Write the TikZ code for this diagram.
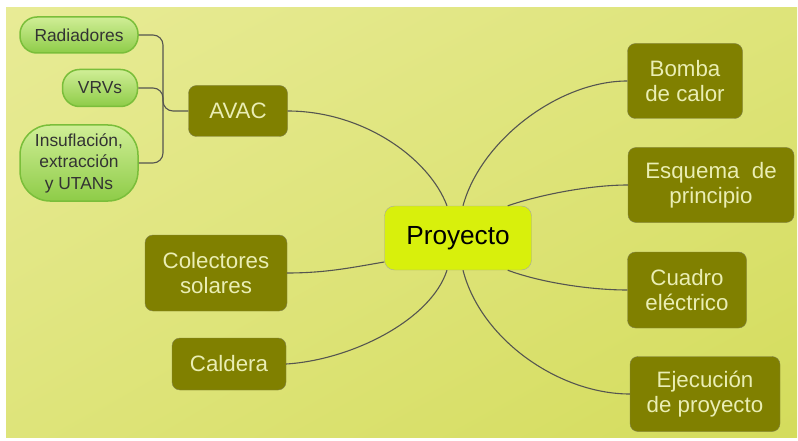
\documentclass[tikz,border=0pt]{standalone}
\usepackage{fontspec}
\setmainfont{Liberation Sans}
\usetikzlibrary{calc}
\usetikzlibrary{shadings}

\definecolor{olivebox}{RGB}{128,128,0}
\definecolor{olivetext}{RGB}{234,238,180}
\definecolor{limebox}{RGB}{216,240,12}
\definecolor{leaflight}{RGB}{208,238,150}
\definecolor{leafdark}{RGB}{142,204,72}
\definecolor{leafedge}{RGB}{122,190,58}
\definecolor{bgA}{RGB}{232,235,150}
\definecolor{bgB}{RGB}{222,228,122}
\definecolor{bgC}{RGB}{212,220,92}
\definecolor{linkgray}{RGB}{85,85,80}

\begin{document}
\begin{tikzpicture}[x=1pt,y=-1pt,
        topic/.style={draw=gray!60!olivebox, fill=olivebox, rounded corners=8pt,
            text=olivetext, align=center, inner sep=0pt,
            font=\fontsize{22.3}{25.5}\selectfont},
        leaf/.style={draw=leafedge, line width=1.5pt, top color=leaflight, bottom color=leafdark,
            text=black!80, align=center, inner sep=0pt,
            font=\fontsize{17.4}{21.5}\selectfont},
        link/.style={draw=linkgray, line width=1.1pt}]
                \useasboundingbox (0,0) rectangle (798,441);
                \shade[upper left=bgA, upper right=bgB, lower left=bgB, lower right=bgC]
                    (6,8) rectangle (797,437);

                \node[draw=gray!70, fill=limebox, rounded corners=10pt, inner sep=0pt,
                    minimum width=147, minimum height=64,
                    font=\fontsize{26.2}{30}\selectfont] (pj) at (458,238) {Proyecto};

                \node[topic, minimum width=99, minimum height=51] (avac) at (238,111) {AVAC};
                \node[topic, minimum width=142, minimum height=76] (colect) at (216,273) {Colectores\\solares};
                \node[topic, minimum width=114, minimum height=52] (caldera) at (229,364) {Caldera};

                \node[topic, minimum width=115, minimum height=75] (bomba) at (685,81) {Bomba\\de calor};
                \node[topic, minimum width=166, minimum height=75] (esquema) at (711,185) {Esquema~~de\\principio};
                \node[topic, minimum width=119, minimum height=76] (cuadro) at (687,290) {Cuadro\\eléctrico};
                \node[topic, minimum width=150, minimum height=75] (ejec) at (705,394) {Ejecución\\de proyecto};

                \node[leaf, rounded corners=17pt, minimum width=118, minimum height=36] (rad) at (79,35) {Radiadores};
                \node[leaf, rounded corners=17pt, minimum width=75, minimum height=37] (vrv) at (100,88) {VRVs};
                \node[leaf, rounded corners=30pt, minimum width=118, minimum height=76] (ins) at (79,163) {Insuflación,\\extracción\\y UTANs};

                \coordinate (hub) at (163,111);
                \draw[link, rounded corners=10pt] (rad.east) -| (hub) -- (avac.west);
                \draw[link, rounded corners=10pt] (vrv.east) -| (hub);
                \draw[link, rounded corners=10pt] (ins.east) -| (hub);

                \draw[link] (avac.east) .. controls +(75,0) and +(-18,-48) .. ($(pj.north)+(-11,0)$);
                \draw[link] ($(pj.north)+(5,0)$) .. controls +(18,-66) and +(-68,0) .. (bomba.west);
                \draw[link] ($(pj.north east)+(-24,0)$) .. controls +(32,-11) and +(-38,0) .. (esquema.west);
                \draw[link] ($(pj.south east)+(-24,0)$) .. controls +(32,12) and +(-38,0) .. (cuadro.west);
                \draw[link] ($(pj.south)+(5,0)$) .. controls +(18,70) and +(-70,0) .. (ejec.west);
                \draw[link] (colect.east) .. controls +(40,0) and +(-30,5) .. ($(pj.west)+(0,24)$);
                \draw[link] (caldera.east) .. controls +(65,-4) and +(-16,50) .. ($(pj.south)+(-11,0)$);
            \end{tikzpicture}
\end{document}
